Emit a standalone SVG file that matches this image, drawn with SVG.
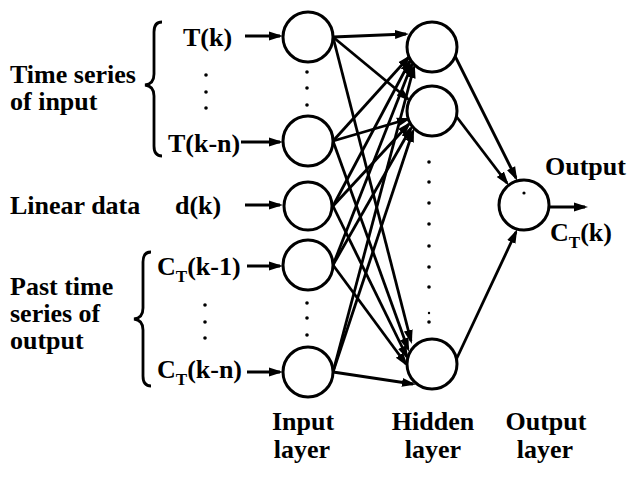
<svg xmlns="http://www.w3.org/2000/svg" width="629" height="477" viewBox="0 0 629 477" font-family="'Liberation Serif', 'Times New Roman', serif" font-weight="bold">
<style>
text{font-family:'Liberation Serif','Times New Roman',serif;font-weight:700;font-size:26px;fill:#000}
.sub{font-size:17px}
.node{fill:#fff;stroke:#000;stroke-width:3}
.edge{stroke:#000;stroke-width:2.8;fill:none;marker-end:url(#ah)}
.brace{stroke:#000;stroke-width:2.8;fill:none}
.dot{fill:#000}
</style>
<defs>
<marker id="ah" markerUnits="userSpaceOnUse" markerWidth="18" markerHeight="12" refX="11" refY="5" orient="auto">
<path d="M0,0.5 L14,5 L0,9.5 z" fill="#000"/>
</marker>
</defs>
<rect width="629" height="477" fill="#fff"/>

<g id="labels-left">
<text x="10" y="83">Time series</text>
<text x="10" y="110">of input</text>
<text x="10" y="214">Linear data</text>
<text x="10" y="295">Past time</text>
<text x="10" y="322">series of</text>
<text x="10" y="349">output</text>
<path class="brace" d="M162,22 Q154,22 154,32 L154,74 Q154,84 145,85 Q154,86 154,96 L154,146 Q154,156 162,156"/>
<path class="brace" d="M151,252 Q143,252 143,262 L143,308 Q143,318 134,319 Q143,320 143,330 L143,376 Q143,386 151,386"/>
<text x="183" y="46">T(k)</text>
<text x="168" y="152">T(k-n)</text>
<text x="175" y="214">d(k)</text>
<text x="157" y="275">C<tspan class="sub" dy="7">T</tspan><tspan dy="-7">(k-1)</tspan></text>
<text x="157" y="378">C<tspan class="sub" dy="7">T</tspan><tspan dy="-7">(k-n)</tspan></text>
<circle class="dot" cx="206" cy="75" r="1.8"/>
<circle class="dot" cx="206" cy="92" r="1.8"/>
<circle class="dot" cx="206" cy="108" r="1.8"/>
<circle class="dot" cx="205" cy="305" r="1.8"/>
<circle class="dot" cx="205" cy="322" r="1.8"/>
<circle class="dot" cx="205" cy="338" r="1.8"/>
</g>

<g id="connectors">
<line class="edge" x1="245" y1="36" x2="280" y2="36"/>
<line class="edge" x1="241" y1="142" x2="280" y2="142"/>
<line class="edge" x1="245" y1="205" x2="280" y2="205"/>
<line class="edge" x1="247" y1="266" x2="280" y2="266"/>
<line class="edge" x1="247" y1="372" x2="280" y2="372"/>

<line class="edge" x1="333" y1="37" x2="406" y2="34"/>
<line class="edge" x1="333" y1="141" x2="409" y2="57"/>
<line class="edge" x1="333" y1="206" x2="410" y2="61"/>
<line class="edge" x1="333" y1="265" x2="412" y2="64"/>
<line class="edge" x1="333" y1="372" x2="414" y2="67"/>

<line class="edge" x1="333" y1="37" x2="408" y2="99"/>
<line class="edge" x1="333" y1="141" x2="408" y2="119"/>
<line class="edge" x1="333" y1="206" x2="409" y2="124"/>
<line class="edge" x1="333" y1="265" x2="411" y2="128"/>
<line class="edge" x1="333" y1="372" x2="413" y2="131"/>

<line class="edge" x1="333" y1="37" x2="411" y2="341"/>
<line class="edge" x1="333" y1="141" x2="408" y2="349"/>
<line class="edge" x1="333" y1="206" x2="407" y2="357"/>
<line class="edge" x1="333" y1="265" x2="406" y2="364"/>
<line class="edge" x1="333" y1="372" x2="413" y2="384"/>

<line class="edge" x1="455" y1="56" x2="516" y2="178"/>
<line class="edge" x1="456" y1="116" x2="507" y2="183"/>
<line class="edge" x1="456" y1="360" x2="516" y2="232"/>

<line class="edge" x1="550" y1="207" x2="585" y2="207"/>
</g>

<g id="input-layer">
<circle class="node" cx="308" cy="37" r="25"/>
<circle class="node" cx="308" cy="141" r="25"/>
<circle class="node" cx="308" cy="206" r="24"/>
<circle class="node" cx="308" cy="265" r="25"/>
<circle class="node" cx="308" cy="372" r="25"/>
<circle class="dot" cx="307" cy="72" r="1.8"/>
<circle class="dot" cx="307" cy="88" r="1.8"/>
<circle class="dot" cx="307" cy="105" r="1.8"/>
<circle class="dot" cx="307" cy="303" r="1.8"/>
<circle class="dot" cx="307" cy="318" r="1.8"/>
<circle class="dot" cx="307" cy="335" r="1.8"/>
<text x="303" y="430" text-anchor="middle">Input</text>
<text x="302" y="458" text-anchor="middle">layer</text>
</g>

<g id="hidden-layer">
<circle class="node" cx="432" cy="47" r="25"/>
<circle class="node" cx="432" cy="111" r="25"/>
<circle class="node" cx="432" cy="364" r="25"/>
<circle class="dot" cx="429" cy="162" r="1.8"/>
<circle class="dot" cx="429" cy="182" r="1.8"/>
<circle class="dot" cx="429" cy="203" r="1.8"/>
<circle class="dot" cx="429" cy="224" r="1.8"/>
<circle class="dot" cx="429" cy="246" r="1.8"/>
<circle class="dot" cx="429" cy="267" r="1.8"/>
<circle class="dot" cx="429" cy="287" r="1.8"/>
<circle class="dot" cx="429" cy="313" r="1.2"/>
<circle class="dot" cx="429" cy="322" r="1.8"/>
<text x="433" y="430" text-anchor="middle">Hidden</text>
<text x="433" y="458" text-anchor="middle">layer</text>
</g>

<g id="output-layer">
<circle class="node" cx="524" cy="205" r="25"/>
<circle class="dot" cx="524" cy="193" r="1.6"/>
<text x="545" y="175">Output</text>
<text x="550" y="241">C<tspan class="sub" dy="7">T</tspan><tspan dy="-7">(k)</tspan></text>
<text x="546" y="430" text-anchor="middle">Output</text>
<text x="545" y="458" text-anchor="middle">layer</text>
</g>
</svg>
